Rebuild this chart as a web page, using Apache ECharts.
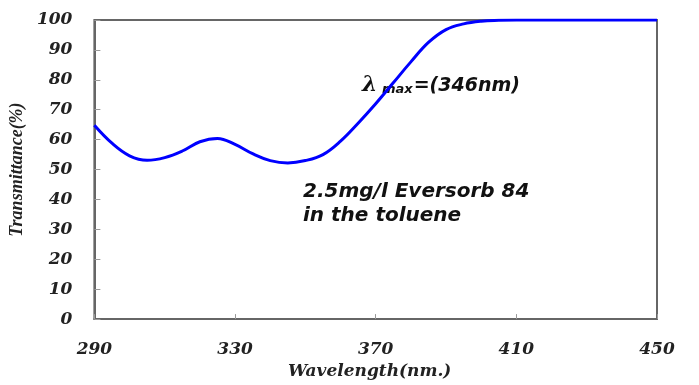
<!DOCTYPE html>
<html><head><meta charset="utf-8">
<script src="https://cdn.jsdelivr.net/npm/echarts@6/dist/echarts.min.js"></script>
<style>html,body{margin:0;padding:0;background:#fff}#c{width:699px;height:385px}</style>
</head><body><div id="c"></div>
<script>
var wavelength = [290,295,300,305,310,315,320,325,330,335,340,345,350,355,360,365,370,375,380,385,390,395,400,405,410,415,420,425,430,435,440,445,450];
var transmittance = [64.8,58.8,54.6,53.1,54.0,56.2,59.3,60.4,58.4,55.3,53.0,52.2,53.0,55.0,59.5,65.5,72.0,79.0,86.0,92.5,96.8,98.7,99.6,99.9,100,100,100,100,100,100,100,100,100];
var xTicks = [290,330,370,410,450];
var yTicks = [0,10,20,30,40,50,60,70,80,90,100];

var chart = echarts.init(document.getElementById('c'));
var lbl = {fontFamily:'DejaVu Serif', fontStyle:'italic', fontWeight:'bold', fontSize:17, color:'#222'};
chart.setOption({
  animation:false,
  grid:{left:93, right:42, top:20, bottom:64, show:true, borderColor:'#666', borderWidth:2, backgroundColor:'transparent'},
  xAxis:{type:'value', min:290, max:450, interval:40,
    name:'Wavelength(nm.)', nameLocation:'middle', nameGap:41,
    nameTextStyle:{fontFamily:'DejaVu Serif', fontStyle:'italic', fontWeight:'bold', fontSize:17, color:'#222', padding:[0,12,0,0]},
    axisLine:{show:true, lineStyle:{color:'#666', width:2}},
    axisTick:{show:true, inside:true, length:5, lineStyle:{color:'#999'}},
    axisLabel:Object.assign({margin:22, formatter:function(v){return xTicks.indexOf(v)>=0?String(v):'';}}, lbl),
    splitLine:{show:false}},
  yAxis:{type:'value', min:0, max:100, interval:10,
    name:'Transmittance(%)', nameLocation:'middle', nameGap:68, nameRotate:90,
    nameTextStyle:{fontFamily:'Liberation Serif', fontStyle:'italic', fontWeight:'bold', fontSize:18, color:'#222'},
    axisLine:{show:true, lineStyle:{color:'#666', width:2}},
    axisTick:{show:true, inside:true, length:6, lineStyle:{color:'#999'}},
    axisLabel:Object.assign({margin:22, formatter:function(v){return yTicks.indexOf(v)>=0?String(v):'';}}, lbl),
    splitLine:{show:false}},
  series:[{type:'line', smooth:0.4, showSymbol:false, symbol:'none',
    lineStyle:{color:'#0000ff', width:3},
    data:wavelength.map(function(w,i){return [w, transmittance[i]];})}],
  graphic:[
    {type:'text', left:362, top:74, style:{
      text:'{l|λ}{s| max}{m|=(346nm)}',
      rich:{
        l:{fontFamily:'DejaVu Serif', fontStyle:'italic', fontWeight:'bold', fontSize:22, fill:'#111', verticalAlign:'bottom'},
        s:{fontFamily:'DejaVu Sans', fontStyle:'italic', fontWeight:'bold', fontSize:13, fill:'#111', padding:[8,1,0,0], verticalAlign:'bottom'},
        m:{fontFamily:'DejaVu Sans', fontStyle:'italic', fontWeight:'bold', fontSize:19, fill:'#111', verticalAlign:'bottom'}
      }}},
    {type:'text', left:303, top:182, style:{text:'2.5mg/l Eversorb 84', fontFamily:'DejaVu Sans', fontStyle:'italic', fontWeight:'bold', fontSize:20, fill:'#111'}},
    {type:'text', left:303, top:206, style:{text:'in the toluene', fontFamily:'DejaVu Sans', fontStyle:'italic', fontWeight:'bold', fontSize:20, fill:'#111'}}
  ]
});
</script></body></html>
